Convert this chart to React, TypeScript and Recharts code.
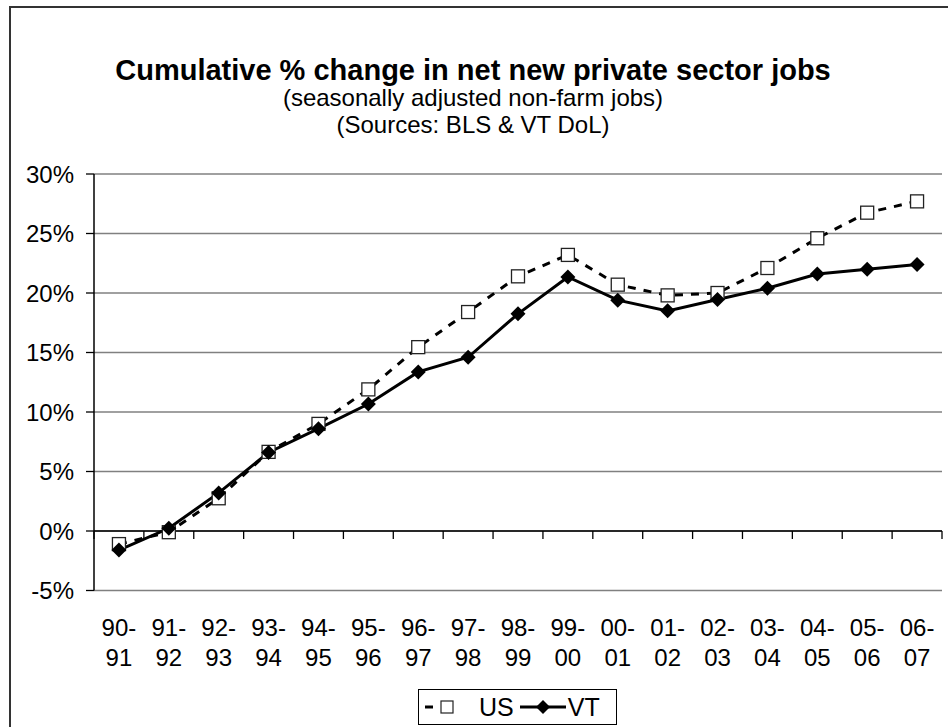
import React from "react";
import {
  LineChart,
  Line,
  XAxis,
  YAxis,
  CartesianGrid,
  ReferenceLine,
  Legend
} from "recharts";

const periods = [
  "90-91", "91-92", "92-93", "93-94", "94-95", "95-96", "96-97", "97-98", "98-99",
  "99-00", "00-01", "01-02", "02-03", "03-04", "04-05", "05-06", "06-07"
];
const usChange = [-1.1, -0.1, 2.75, 6.65, 9.0, 11.9, 15.45, 18.4, 21.4, 23.2, 20.7, 19.8, 20.0, 22.1, 24.6, 26.75, 27.7];
const vtChange = [-1.6, 0.23, 3.2, 6.6, 8.6, 10.67, 13.37, 14.6, 18.25, 21.35, 19.4, 18.5, 19.45, 20.4, 21.6, 22.0, 22.4];
const yTicks = [-5, 0, 5, 10, 15, 20, 25, 30];

const data = periods.map((period, i) => ({ period, US: usChange[i], VT: vtChange[i] }));

const FONT = '"Liberation Sans", Arial, sans-serif';

const PeriodTick = ({ x, y, payload }: any) => {
  const [a, b] = String(payload.value).split("-");
  return (
    <text x={x} y={y} textAnchor="middle" fontSize={24} fontFamily={FONT} fill="#000">
      <tspan x={x} dy={45}>{a}-</tspan>
      <tspan x={x} dy={30}>{b}</tspan>
    </text>
  );
};

// zero line with category tick marks hanging below it
const ZeroAxis = (props: any) => {
  const { x1, x2, y1 } = props;
  const n = periods.length;
  const step = (x2 - x1) / n;
  return (
    <g>
      <line x1={x1} x2={x2} y1={y1} y2={y1} stroke="#000" strokeWidth={1.3} />
      {Array.from({ length: n + 1 }, (_, k) => (
        <line key={k} x1={x1 + k * step} x2={x1 + k * step} y1={y1} y2={y1 + 8} stroke="#000" strokeWidth={1.3} />
      ))}
    </g>
  );
};

const SquareDot = (p: any) => {
  if (p.cx == null || p.cy == null) return null;
  return (
    <rect key={p.index} x={p.cx - 6.5} y={p.cy - 6.5} width={13} height={13} fill="#fff" stroke="#222" strokeWidth={1.3} />
  );
};

const DiamondDot = (p: any) => {
  if (p.cx == null || p.cy == null) return null;
  const { cx, cy } = p;
  return (
    <polygon key={p.index} points={`${cx},${cy - 7.5} ${cx + 7.5},${cy} ${cx},${cy + 7.5} ${cx - 7.5},${cy}`} fill="#000" />
  );
};

const LegendBox = () => (
  <div
    style={{
      border: "1px solid #000",
      boxSizing: "border-box",
      width: 199,
      height: 36,
      background: "#fff",
      display: "flex",
      alignItems: "center",
      fontFamily: FONT,
      fontSize: 25,
      color: "#000"
    }}
  >
    <svg width={48} height={20} style={{ marginLeft: 4 }}>
      <line x1={2} x2={10} y1={10} y2={10} stroke="#000" strokeWidth={3} />
      <rect x={18} y={4} width={12} height={12} fill="#fff" stroke="#222" strokeWidth={1.2} />
    </svg>
    <span style={{ marginLeft: 8 }}>US</span>
    <svg width={46} height={20} style={{ marginLeft: 6 }}>
      <line x1={0} x2={46} y1={10} y2={10} stroke="#000" strokeWidth={3} />
      <polygon points="23,3 30,10 23,17 16,10" fill="#000" />
    </svg>
    <span style={{ marginLeft: 2 }}>VT</span>
  </div>
);

export default function App() {
  return (
    <div style={{ position: "absolute", left: 0, top: 0, width: 948, height: 727, overflow: "hidden", background: "#fff", fontFamily: FONT }}>
      <div style={{ position: "absolute", left: 9, top: 6, width: 980, height: 760, borderLeft: "2px solid #333", borderTop: "2px solid #333" }} />
      <div style={{ position: "absolute", left: 0, width: 946, top: 56, lineHeight: "28px", textAlign: "center", fontSize: 29, fontWeight: "bold" }}>
        Cumulative % change in net new private sector jobs
      </div>
      <div style={{ position: "absolute", left: 0, width: 946, top: 85, lineHeight: "25px", textAlign: "center", fontSize: 24 }}>
        (seasonally adjusted non-farm jobs)
      </div>
      <div style={{ position: "absolute", left: 0, width: 946, top: 112, lineHeight: "25px", textAlign: "center", fontSize: 24 }}>
        (Sources: BLS &amp; VT DoL)
      </div>
      <div style={{ position: "absolute", left: 0, top: 0 }}>
        <LineChart width={948} height={727} data={data} margin={{ top: 174, right: 6, bottom: 36.5, left: 0 }}>
          <CartesianGrid vertical={false} stroke="#808080" strokeWidth={1.3} />
          <XAxis
            dataKey="period"
            scale="band"
            axisLine={false}
            tickLine={false}
            tickSize={0}
            tickMargin={0}
            height={100}
            interval={0}
            tick={<PeriodTick />}
          />
          <YAxis
            domain={[-5, 30]}
            ticks={yTicks}
            width={94}
            tickSize={8}
            tickMargin={12}
            interval={0}
            tickFormatter={(v) => `${v}%`}
            axisLine={{ stroke: "#000", strokeWidth: 1.5 }}
            tickLine={{ stroke: "#000", strokeWidth: 1.3 }}
            tick={{ fontSize: 24, fill: "#000", fontFamily: FONT }}
          />
          <YAxis
            yAxisId="r"
            orientation="right"
            domain={[-5, 30]}
            width={0}
            tick={false}
            tickLine={false}
            axisLine={{ stroke: "#808080", strokeWidth: 1.5 }}
          />
          <ReferenceLine y={0} shape={<ZeroAxis />} />
          <Line
            dataKey="US"
            stroke="#000"
            strokeWidth={3}
            strokeDasharray="8 8"
            dot={<SquareDot />}
            activeDot={false}
            isAnimationActive={false}
          />
          <Line
            dataKey="VT"
            stroke="#000"
            strokeWidth={3}
            dot={<DiamondDot />}
            activeDot={false}
            isAnimationActive={false}
          />
          <Legend
            layout="vertical"
            align="center"
            verticalAlign="middle"
            content={<LegendBox />}
            wrapperStyle={{ left: 418, top: 689, width: 199, height: 36 }}
          />
        </LineChart>
      </div>
    </div>
  );
}
